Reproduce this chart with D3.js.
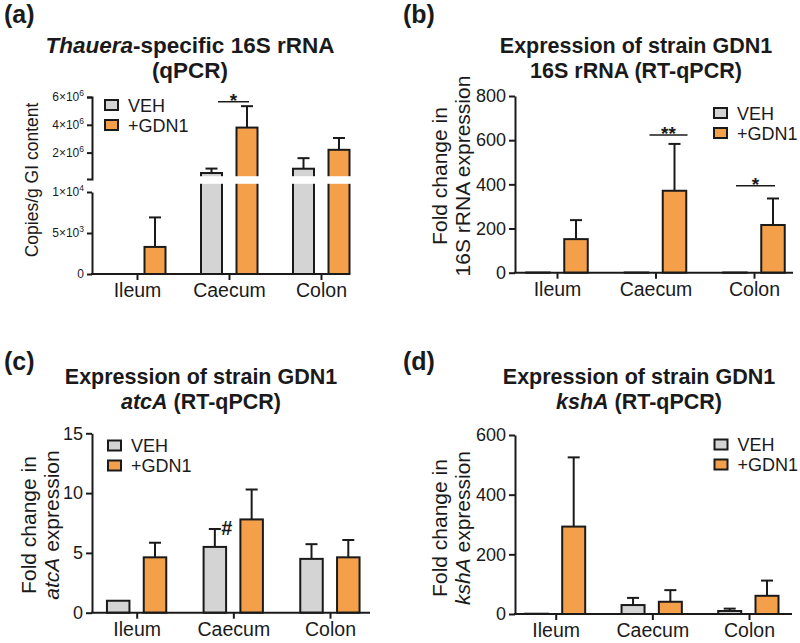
<!DOCTYPE html>
<html>
<head>
<meta charset="utf-8">
<script src="https://cdn.jsdelivr.net/npm/d3@7"></script>
<style>
  body { margin: 0; background: #fff; }
  svg text { font-family: "Liberation Sans", Arial, sans-serif; fill: #1a1a1a; }
</style>
</head>
<body>
<svg id="fig" width="800" height="643"></svg>
<script>
// GI sites and treatment groups
const sites = ["Ileum", "Caecum", "Colon"];
const groups = ["VEH", "+GDN1"];

// (a) Thauera-specific 16S rRNA, copies/g GI content (mean, +SD)
const thaueraVeh = [0, 0.53e6, 0.84e6];
const thaueraVehSd = [0, 0.32e6, 0.76e6];
const thaueraGdn = [3300, 3.8e6, 2.2e6];
const thaueraGdnSd = [3600, 1.54e6, 0.85e6];

// (b) strain GDN1 16S rRNA, fold change
const rrnaVeh = [1, 1, 1];
const rrnaVehSd = [0, 0, 0];
const rrnaGdn = [152, 371, 216];
const rrnaGdnSd = [86, 212, 120];

// (c) atcA, fold change
const atcaVeh = [1.0, 5.5, 4.5];
const atcaVehSd = [0, 1.5, 1.23];
const atcaGdn = [4.63, 7.8, 4.63];
const atcaGdnSd = [1.22, 2.5, 1.45];

// (d) kshA, fold change
const kshaVeh = [1, 30, 10];
const kshaVehSd = [0, 24, 8];
const kshaGdn = [293, 41, 61];
const kshaGdnSd = [232, 39, 51];

// tick values
const thaueraTicksLow = [0, 5e3, 1e4];
const thaueraTicksHigh = [2e6, 4e6, 6e6];
const rrnaTicks = [0, 200, 400, 600, 800];
const atcaTicks = [0, 5, 10, 15];
const kshaTicks = [0, 200, 400, 600];

const colors = { "VEH": "#d4d4d4", "+GDN1": "#f4a04a" };

const svg = d3.select("#fig");

// helpers
function styleAxis(g) {
  g.select(".domain").attr("stroke", "#1a1a1a").attr("stroke-width", 2);
  g.selectAll(".tick line").attr("stroke", "#1a1a1a").attr("stroke-width", 2);
}

function drawBars(g, x, yFn, vals, sds, off, w, color) {
  sites.forEach((s, i) => {
    const v = vals[i];
    if (v <= 0) return;
    const cx = x(s) + off;
    const sd = sds[i];
    if (sd > 0) {
      g.append("line").attr("x1", cx).attr("x2", cx)
        .attr("y1", yFn(v)).attr("y2", yFn(v + sd))
        .attr("stroke", "#1a1a1a").attr("stroke-width", 2);
      g.append("line").attr("x1", cx - 6).attr("x2", cx + 6)
        .attr("y1", yFn(v + sd)).attr("y2", yFn(v + sd))
        .attr("stroke", "#1a1a1a").attr("stroke-width", 2);
    }
    g.append("rect")
      .attr("x", cx - w / 2).attr("y", yFn(v))
      .attr("width", w).attr("height", yFn(0) - yFn(v))
      .attr("fill", color).attr("stroke", "#1a1a1a").attr("stroke-width", 2);
  });
}

function drawXAxis(g, x, y0, xStart, xEnd, labelY) {
  const ax = g.append("g").attr("transform", `translate(0,${y0})`)
    .call(d3.axisBottom(x).tickSize(6).tickSizeOuter(0).tickPadding(5));
  ax.select(".domain").remove();
  ax.selectAll(".tick line").attr("stroke", "#1a1a1a").attr("stroke-width", 2);
  ax.selectAll(".tick text").attr("font-size", 19.5).attr("dy", null).attr("y", labelY);
  g.append("line").attr("x1", xStart - 1).attr("x2", xEnd)
    .attr("y1", y0).attr("y2", y0)
    .attr("stroke", "#1a1a1a").attr("stroke-width", 2);
}

function drawLegend(g, lx, ly) {
  groups.forEach((k, i) => {
    const yy = ly + i * 20;
    g.append("rect").attr("x", lx + 1).attr("y", yy + 1).attr("width", 13).attr("height", 10)
      .attr("fill", colors[k]).attr("stroke", "#1a1a1a").attr("stroke-width", 2);
    g.append("text").attr("x", lx + 24).attr("y", yy + 12.5)
      .attr("font-size", 18).text(k);
  });
}

function drawTitle(g, cx, y, parts1, parts2, size) {
  [parts1, parts2].forEach((parts, li) => {
    const t = g.append("text").attr("x", cx).attr("y", y + li * 24.5)
      .attr("text-anchor", "middle").attr("font-size", size).attr("font-weight", "bold");
    parts.forEach(p => t.append("tspan").attr("font-style", p[1] ? "italic" : null).text(p[0]));
  });
}

function drawYLabel(g, cx, cy, lines, size) {
  lines.forEach((parts, li) => {
    const t = g.append("text")
      .attr("transform", `translate(${cx + li * 23},${cy}) rotate(-90)`)
      .attr("text-anchor", "middle").attr("font-size", size);
    parts.forEach(p => t.append("tspan").attr("font-style", p[1] ? "italic" : null).text(p[0]));
  });
}

function panelLabel(x, y, txt) {
  svg.append("text").attr("x", x).attr("y", y).attr("font-size", 25)
    .attr("font-weight", "bold").text(txt);
}

function sigMark(g, x1, x2, y, txt, size) {
  g.append("line").attr("x1", x1).attr("x2", x2).attr("y1", y).attr("y2", y)
    .attr("stroke", "#1a1a1a").attr("stroke-width", 1.5);
  g.append("text").attr("x", (x1 + x2) / 2).attr("y", y + 5)
    .attr("text-anchor", "middle").attr("font-size", size || 19).attr("font-weight", "bold").text(txt);
}

/*************************************************************/
// (a) broken y axis

(function() {
  const g = svg.append("g");
  const axisX = 92, y0 = 274;
  const x = d3.scalePoint().domain(sites).range([137, 321]);
  const yLow = d3.scaleLinear().domain([0, 1e4]).range([y0, 192]);
  const yHigh = d3.scaleLinear().domain([0.1e6, 6e6]).range([179, 97]);
  const cut = 1.1e4;
  const yFn = v => v <= cut ? yLow(v) : yHigh(v);

  drawBars(g, x, yFn, thaueraVeh, thaueraVehSd, -17.5, 21, colors["VEH"]);
  drawBars(g, x, yFn, thaueraGdn, thaueraGdnSd, 18, 21, colors["+GDN1"]);

  // white break band
  g.append("rect").attr("x", axisX + 3).attr("y", yHigh(0.3e6)).attr("width", 260)
    .attr("height", yLow(cut) - yHigh(0.3e6)).attr("fill", "#fff");

  const supFmt = (sel) => {
    sel.each(function(d) {
      const t = d3.select(this).text(null).attr("font-size", 12);
      if (d === 0) { t.text("0"); return; }
      const e = Math.floor(Math.log10(d));
      const m = Math.round(d / Math.pow(10, e));
      t.append("tspan").text(m + "\u00d710");
      t.append("tspan").attr("font-size", 8.5).attr("dy", -5).text(e);
    });
  };

  const axLow = g.append("g").attr("transform", `translate(${axisX},0)`)
    .call(d3.axisLeft(yLow).tickValues(thaueraTicksLow).tickSize(5).tickSizeOuter(0).tickPadding(3));
  styleAxis(axLow);
  axLow.selectAll(".tick text").call(supFmt);

  const axHigh = g.append("g").attr("transform", `translate(${axisX},0)`)
    .call(d3.axisLeft(yHigh).tickValues(thaueraTicksHigh).tickSize(5).tickSizeOuter(5).tickPadding(3));
  styleAxis(axHigh);
  axHigh.selectAll(".tick text").call(supFmt);

  drawXAxis(g, x, y0, axisX, 347, 23);
  drawLegend(g, 104, 99);
  sigMark(g, x("Caecum") - 11, x("Caecum") + 20, yHigh(5.66e6), "*", 19);

  drawTitle(g, 190, 53, [["Thauera", true], ["-specific 16S rRNA", false]], [["(qPCR)", false]], 22.5);
  drawYLabel(g, 38, 180, [[["Copies/g GI content", false]]], 17.5);
  panelLabel(4, 23, "(a)");
})();

/*************************************************************/
// generic linear panels (b), (c), (d)

function linearPanel(p) {
  const g = svg.append("g");
  const x = d3.scalePoint().domain(sites).range(p.xr);
  const y = d3.scaleLinear().domain([0, p.ticks[p.ticks.length - 1]]).range([p.y0, p.yTop]);

  drawBars(g, x, y, p.veh, p.vehSd, p.offV, p.w, colors["VEH"]);
  drawBars(g, x, y, p.gdn, p.gdnSd, p.offG, p.w, colors["+GDN1"]);

  const ay = g.append("g").attr("transform", `translate(${p.axisX},0)`)
    .call(d3.axisLeft(y).tickValues(p.ticks).tickSize(6).tickSizeOuter(0).tickPadding(3));
  styleAxis(ay);
  ay.selectAll(".tick text").attr("font-size", 18);

  drawXAxis(g, x, p.y0, p.axisX, p.xEnd, 23);
  drawLegend(g, p.legend[0], p.legend[1]);
  (p.sig || []).forEach(s => sigMark(g, x(s[0]) + s[1], x(s[0]) + s[2], y(s[3]), s[4], 19));
  if (p.extra) p.extra(g, x, y);

  drawTitle(g, p.titleX, p.titleY, [["Expression of strain GDN1", false]], p.title2, 21.5);
  drawYLabel(g, p.ylab[0], p.ylab[1], p.ylabLines, 21);
  panelLabel(p.lab[0], p.lab[1], p.lab[2]);
}

// (b)
linearPanel({
  xr: [557, 754], axisX: 515, xEnd: 793, y0: 272.7, yTop: 96,
  ticks: rrnaTicks, veh: rrnaVeh, vehSd: rrnaVehSd, gdn: rrnaGdn, gdnSd: rrnaGdnSd,
  offV: -19, offG: 19, w: 23.5,
  legend: [713, 107],
  sig: [["Caecum", -6, 32, 623, "**"], ["Colon", -18, 21, 394, "*"]],
  titleX: 636, titleY: 53, title2: [["16S rRNA (RT-qPCR)", false]],
  ylab: [447, 176], ylabLines: [[["Fold change in", false]], [["16S rRNA expression", false]]],
  lab: [403, 23, "(b)"]
});

// (c)
linearPanel({
  xr: [136.7, 330], axisX: 92, xEnd: 370, y0: 612.7, yTop: 433.3,
  ticks: atcaTicks, veh: atcaVeh, vehSd: atcaVehSd, gdn: atcaGdn, gdnSd: atcaGdnSd,
  offV: -18.5, offG: 18.3, w: 22.5,
  legend: [107, 439.5],
  extra: (g, x, y) => {
    g.append("text").attr("x", x("Caecum") - 6.5).attr("y", y(atcaVeh[1] + atcaVehSd[1]) + 6)
      .attr("text-anchor", "middle").attr("font-size", 20).attr("font-weight", "bold").text("#");
  },
  titleX: 201, titleY: 384, title2: [["atcA", true], [" (RT-qPCR)", false]],
  ylab: [35.5, 525], ylabLines: [[["Fold change in", false]], [["atcA", true], [" expression", false]]],
  lab: [4, 370, "(c)"]
});

// (d)
linearPanel({
  xr: [555.7, 749], axisX: 515, xEnd: 792, y0: 614, yTop: 435,
  ticks: kshaTicks, veh: kshaVeh, vehSd: kshaVehSd, gdn: kshaGdn, gdnSd: kshaGdnSd,
  offV: -19.3, offG: 18, w: 23,
  legend: [713.5, 438.5],
  titleX: 639, titleY: 384, title2: [["kshA", true], [" (RT-qPCR)", false]],
  ylab: [447, 528], ylabLines: [[["Fold change in", false]], [["kshA", true], [" expression", false]]],
  lab: [403, 370, "(d)"]
});
</script>
</body>
</html>
